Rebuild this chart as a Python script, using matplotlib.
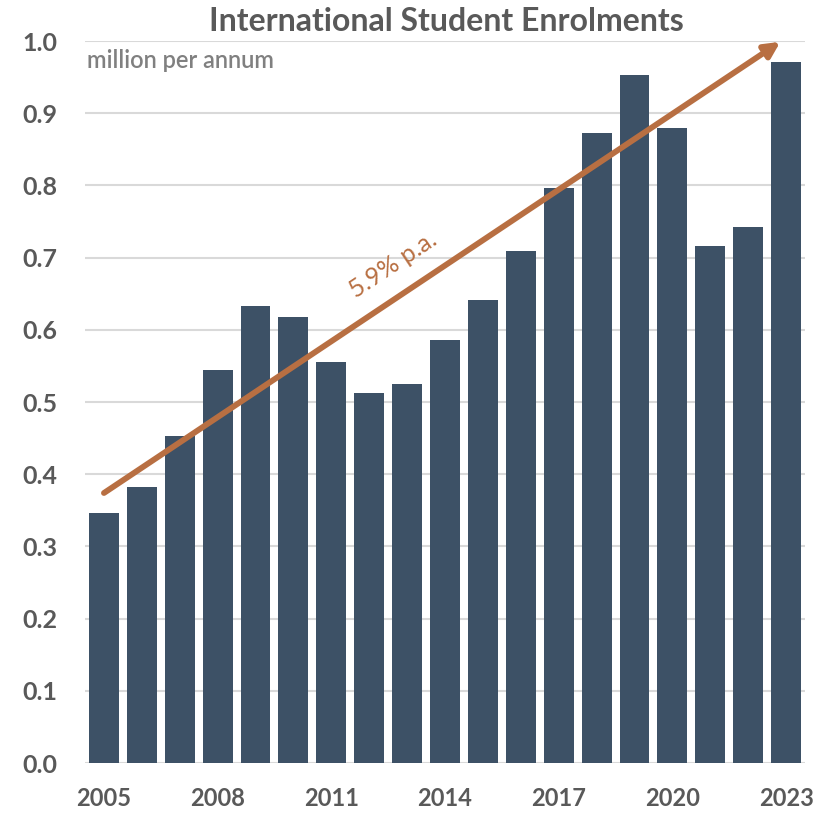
import numpy as np
import matplotlib
matplotlib.use("Agg")
import matplotlib.pyplot as plt

plt.rcParams.update({
    "font.family": ["Lato", "DejaVu Sans"],
})

years = np.arange(2005, 2024)
enrolments = [0.346, 0.382, 0.453, 0.544, 0.633, 0.618, 0.555, 0.512, 0.525, 0.586,
              0.641, 0.709, 0.796, 0.873, 0.953, 0.880, 0.716, 0.742, 0.971]
trend_start = (2005, 0.374)
trend_end = (2022.85, 0.999)
trend_label = "5.9% p.a."
xticks = [2005, 2008, 2011, 2014, 2017, 2020, 2023]
yticks = np.round(np.arange(0, 1.01, 0.1), 1)

BAR = "#3D5166"
ARROW = "#B86F42"
TEXT = "#595959"
GRID = "#D9D9D9"

fig = plt.figure(figsize=(8.3, 8.13), dpi=100)
ax = fig.add_axes([0.1024, 0.0615, 0.8675, 0.888])

ax.bar(years, enrolments, width=0.79, color=BAR, zorder=3)
ax.set_xlim(2004.5, 2023.5)
ax.set_ylim(0, 1.0)

ax.set_yticks(yticks)
ax.set_yticklabels([f"{v:.1f}" for v in yticks])
ax.set_xticks(xticks)
ax.set_xticklabels([str(y) for y in xticks])
ax.tick_params(axis="both", length=0, labelcolor=TEXT)
ax.tick_params(axis="y", labelsize=18, pad=20)
ax.tick_params(axis="x", labelsize=17, pad=17)
for lab in ax.get_xticklabels() + ax.get_yticklabels():
    lab.set_fontweight("bold")

ax.grid(axis="y", color=GRID, linewidth=1.5, zorder=0)
for s in ax.spines.values():
    s.set_visible(False)

ax.annotate("", xy=trend_end, xytext=trend_start,
            arrowprops=dict(arrowstyle="-|>,head_length=0.9,head_width=0.45",
                            color=ARROW, lw=4.2, shrinkA=0, shrinkB=0),
            zorder=5)

p0 = ax.transData.transform(trend_start)
p1 = ax.transData.transform(trend_end)
angle = np.degrees(np.arctan2(p1[1] - p0[1], p1[0] - p0[0]))
ax.text(2012.62, 0.690, trend_label, rotation=angle, rotation_mode="anchor",
        ha="center", va="center", fontsize=18, color=ARROW, zorder=6)

ax.text(0.003, 0.973, "million per annum", transform=ax.transAxes,
        ha="left", va="center", fontsize=17, color="#808080", fontweight="semibold")

fig.text(0.538, 0.974, "International Student Enrolments", ha="center", va="center",
         fontsize=23, fontweight="bold", color=TEXT)

fig.savefig("out.png", dpi=100, facecolor="white")
